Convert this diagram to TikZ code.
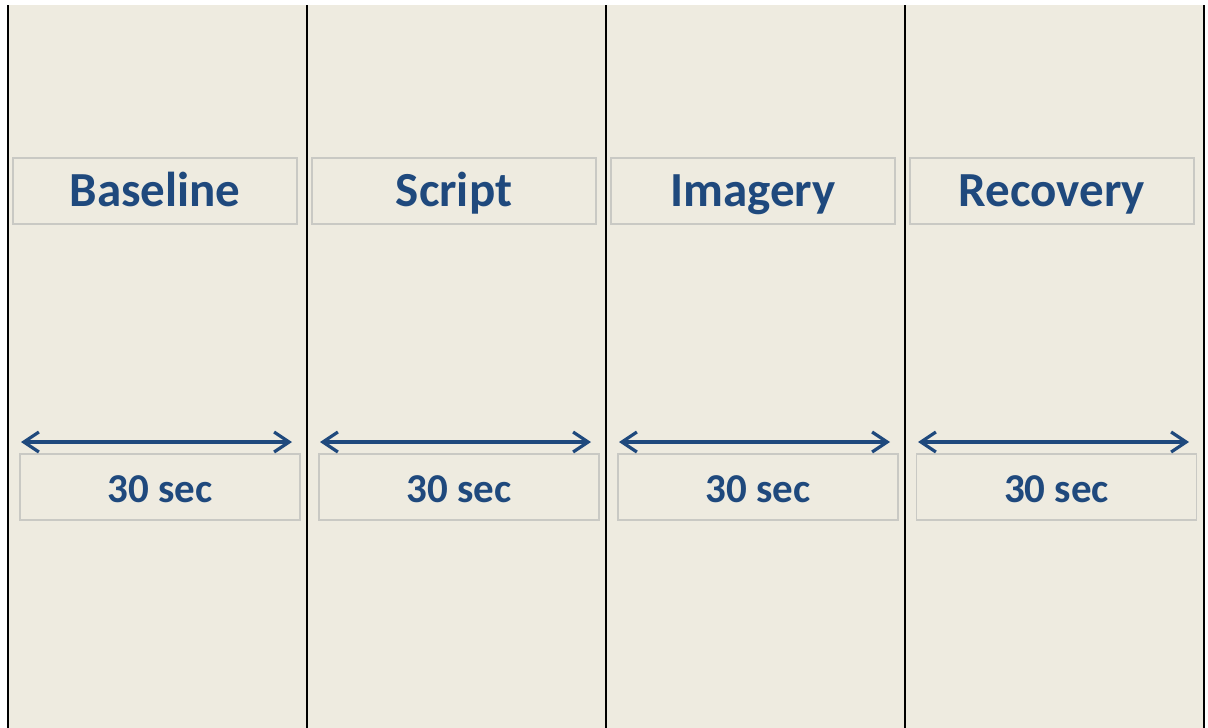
\documentclass[tikz,border=0pt]{standalone}
\usepackage{fontspec}
\setmainfont{Carlito}
\usetikzlibrary{arrows.meta}
\definecolor{bgc}{HTML}{EEEBE0}
\definecolor{txtc}{HTML}{1F497D}
\definecolor{boxc}{HTML}{C9C9C4}
\tikzset{
  x=1pt,y=-1pt,
  phasebox/.style={draw=boxc,line width=1.2pt,fill=bgc,minimum width=284pt,minimum height=66pt,inner sep=0pt,text height=31pt,text depth=0pt,font=\fontsize{49}{52}\selectfont\bfseries,text=txtc},
  timebox/.style={draw=boxc,line width=1.2pt,fill=bgc,minimum width=280pt,minimum height=66pt,inner sep=0pt,text height=30pt,text depth=0pt,font=\fontsize{41}{46}\selectfont\bfseries,text=txtc},
  divider/.style={line width=2.6pt,black},
  barb/.tip={Straight Barb[length=15pt,width=20pt,line width=3.2pt]},
  spanarrow/.style={draw=txtc,line width=3.8pt,barb-barb}
}
\begin{document}
\begin{tikzpicture}
\useasboundingbox (0,0) rectangle (1208,728);
\fill[white] (0,0) rectangle (1208,728);
\fill[bgc] (8,5) rectangle (1204,728);
\foreach \i/\x in {0/8,1/307,2/606,3/905,4/1204}{
  \coordinate (t\i) at (\x,5);
  \coordinate (b\i) at (\x,728);
  \draw[divider] (t\i) -- (b\i);
}
\node[phasebox] (p1) at (155,191) {Baseline};
\node[phasebox] (p2) at (454,191) {Script};
\node[phasebox] (p3) at (753,191) {Imagery};
\node[phasebox] (p4) at (1052,191) {Recovery};
\node[timebox] (s1) at (160,487) {30 sec};
\node[timebox] (s2) at (459,487) {30 sec};
\node[timebox] (s3) at (758,487) {30 sec};
\node[timebox] (s4) at (1056.5,487) {30 sec};
\coordinate (al1) at (21,442);  \coordinate (ar1) at (292,442);
\coordinate (al2) at (320,442); \coordinate (ar2) at (591,442);
\coordinate (al3) at (619,442); \coordinate (ar3) at (890,442);
\coordinate (al4) at (918,442); \coordinate (ar4) at (1189,442);
\draw[spanarrow] (al1) -- (ar1);
\draw[spanarrow] (al2) -- (ar2);
\draw[spanarrow] (al3) -- (ar3);
\draw[spanarrow] (al4) -- (ar4);
\end{tikzpicture}
\end{document}
